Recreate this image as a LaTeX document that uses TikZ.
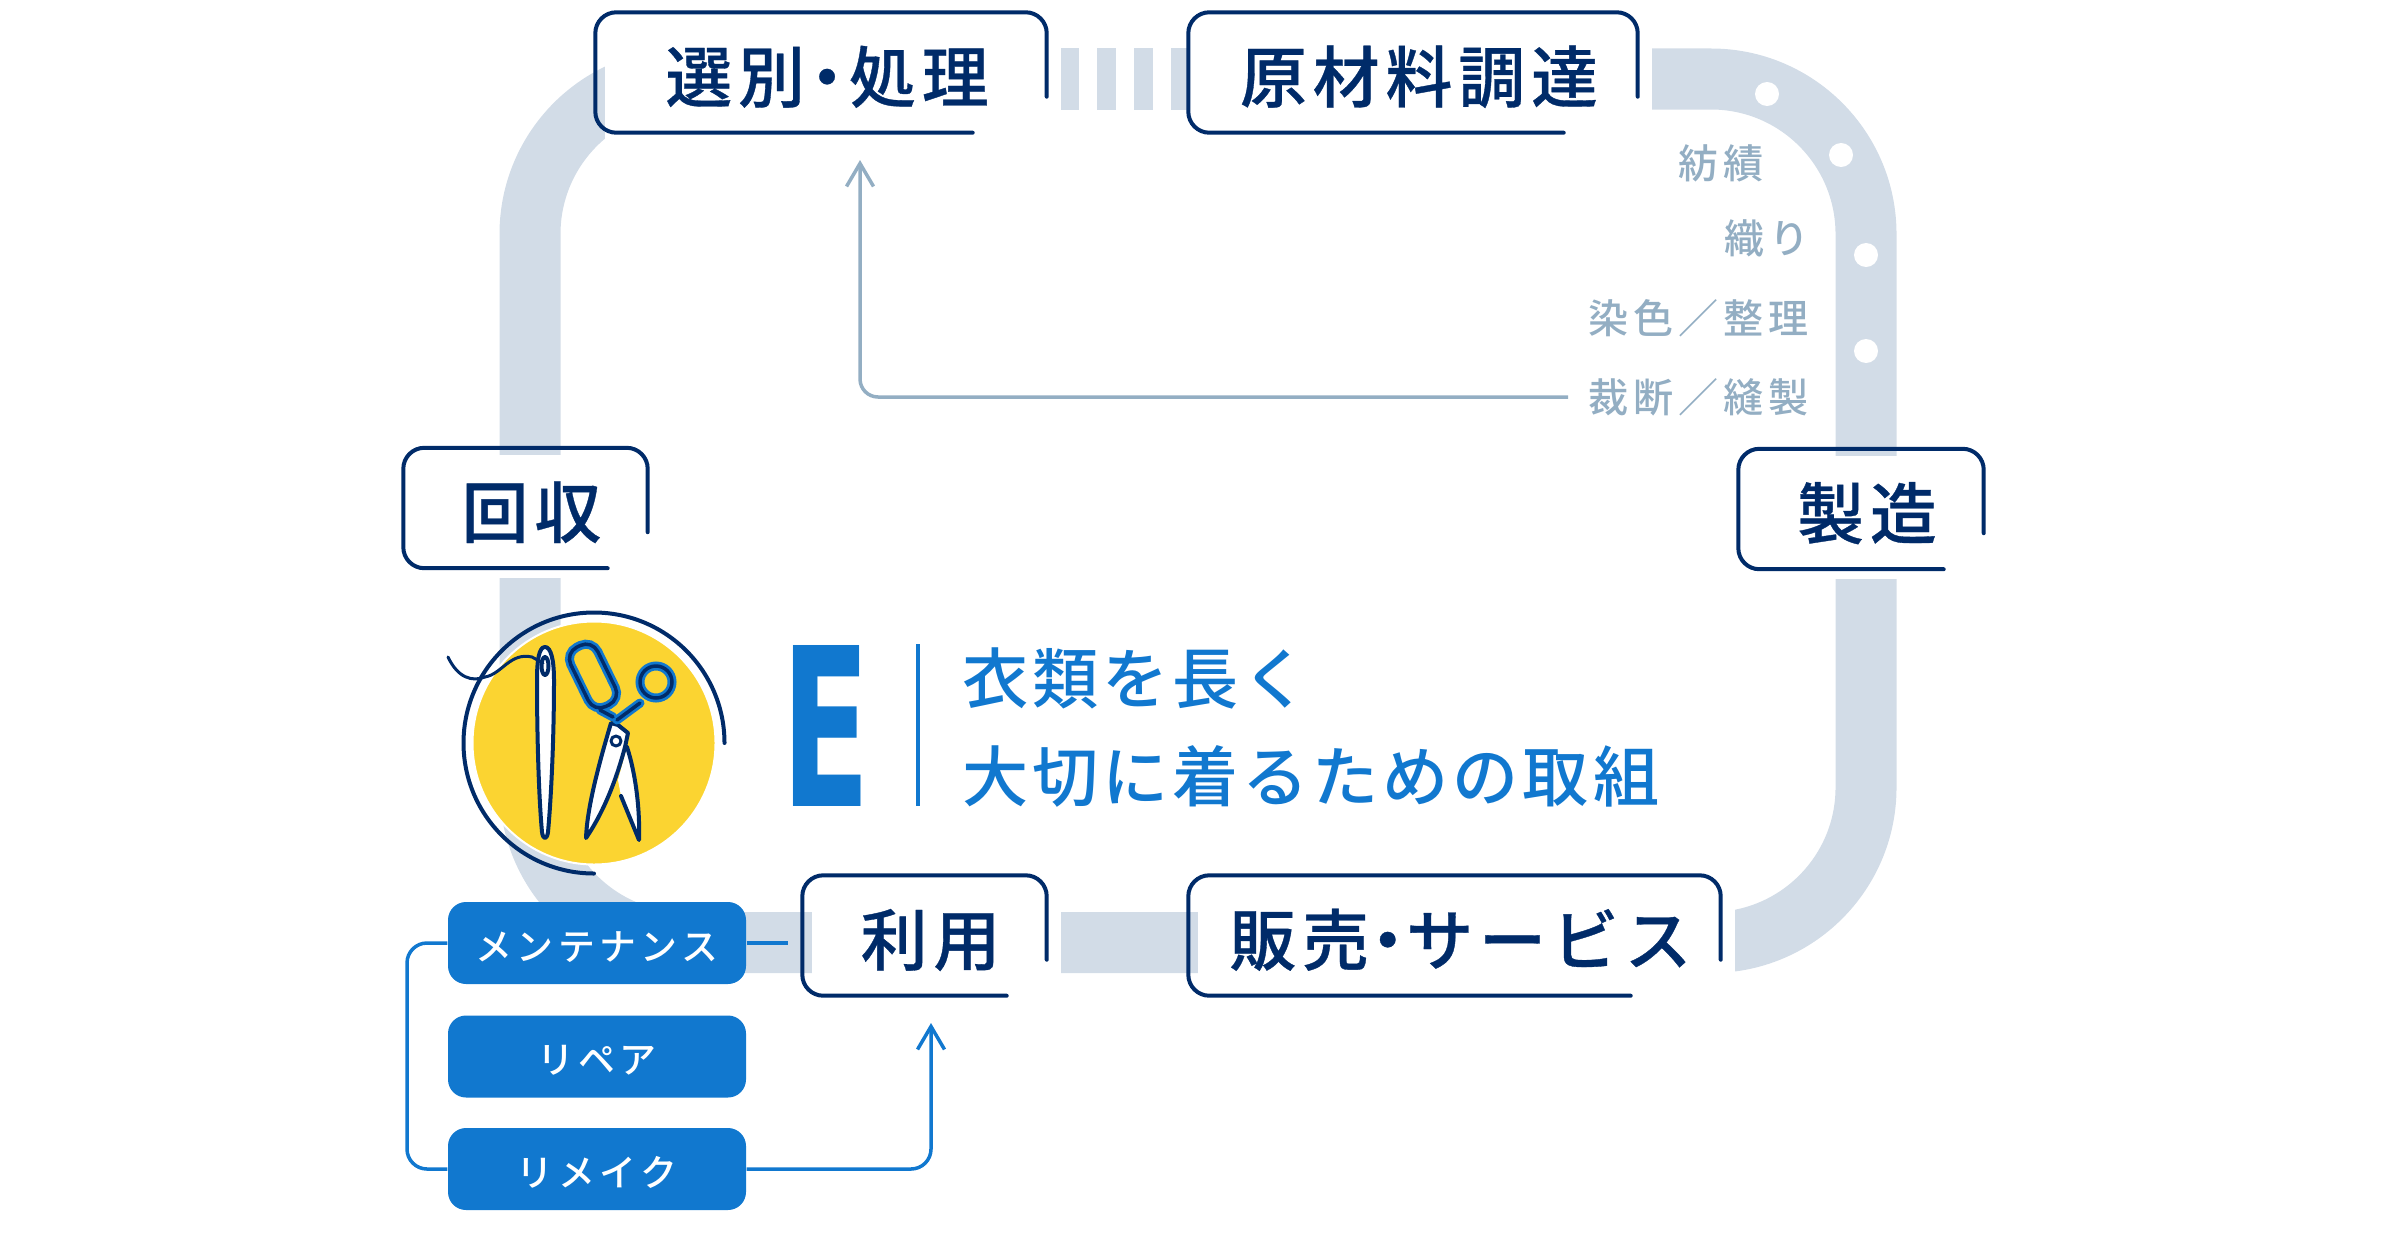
\documentclass[tikz,border=0pt]{standalone}
\usepackage{fontspec}
\usepackage{graphicx}
\usetikzlibrary{arrows.meta,calc}
\newfontfamily\jplb[LetterSpace=9,FakeBold=.5]{Noto Sans CJK JP Medium}
\newfontfamily\jptx[LetterSpace=6]{Noto Sans CJK JP Medium}
\newfontfamily\jpst[LetterSpace=12]{Noto Sans CJK JP Medium}
\newfontfamily\latn{DejaVu Sans}
\definecolor{nv}{RGB}{0, 43, 105}
\definecolor{bl}{RGB}{17, 120, 207}
\definecolor{bd}{RGB}{210, 220, 231}
\definecolor{gy}{RGB}{147, 174, 195}
\definecolor{yl}{RGB}{251, 212, 49}
\pgfdeclarelayer{bg}
\pgfsetlayers{bg,main}
\tikzstyle{band}=[draw=bd,line width=.61cm]
\tikzstyle{lb}=[inner sep=0pt,minimum height=1.19cm,text=nv,text height=.7cm,text depth=.13cm,
  font=\jplb\fontsize{19}{21}\selectfont]
\tikzstyle{fr}=[draw=nv,line width=.04cm,line cap=round,rounded corners=.21cm]
\tikzstyle{bn}=[fill=bl,rounded corners=.18cm,minimum width=2.98cm,minimum height=.82cm,
  inner sep=0pt,text=white,text height=.4cm,text depth=.06cm,font=\jpst\fontsize{10.5}{12}\selectfont]
\tikzstyle{gt}=[inner sep=0pt,anchor=east,text=gy,font=\jpst\fontsize{11.4}{13}\selectfont]
\tikzstyle{bt}=[inner sep=0pt,anchor=west,text=bl,font=\jptx\fontsize{18.8}{21}\selectfont]
\tikzstyle{gl}=[draw=gy,line width=.035cm,rounded corners=.18cm]
\tikzstyle{ln}=[draw=bl,line width=.035cm,rounded corners=.2cm]
\tikzstyle{tip}=[-{Straight Barb[length=.23cm,width=.27cm]}]
\tikzstyle{ol}=[draw=nv,line width=.04cm,line cap=round,line join=round]
\tikzstyle{hb}=[draw=bl,line width=.09cm,line cap=round]
\tikzstyle{hn}=[draw=nv,line width=.035cm,line cap=round]
\tikzstyle{none}=[]
\newcommand{\lframe}[2]{%
  \begin{pgfonlayer}{bg}
    \fill [white] ($(#1.north west)+(.04,-.06)$) rectangle ($(#1.south east)+(.08,-.09)$);
  \end{pgfonlayer}
  \draw [style=fr] ($(#1.south east)+(-.06,.37)$) -- ($(#1.north east)+(-.06,.01)$)
    -- ($(#1.north west)+(-.06,.01)$) -- ($(#1.south west)+(-.06,.01)$)
    -- ($(#1.south east)+(-.06-#2,.01)$);}
\newcommand{\dt}[1]{\kern-#1em・\kern-#1em}

\begin{document}
\begin{tikzpicture}
  \useasboundingbox (0, 0) rectangle (24, 12.4);
  \begin{pgfonlayer}{bg}
    \draw [style=band, rounded corners=1.55cm] (10.6, 11.61) -- (5.3, 11.61) -- (5.3, 2.975)
      -- (18.66, 2.975) -- (18.66, 11.61) -- (16.2, 11.61);
    \draw [style=band, dash pattern=on .19cm off .18cm] (10.6, 11.61) -- (11.9, 11.61);
    \fill [white] (17.67, 11.46) circle (.12);
    \fill [white] (18.41, 10.85) circle (.12);
    \fill [white] (18.66, 9.85) circle (.12);
    \fill [white] (18.66, 8.89) circle (.12);
  \end{pgfonlayer}

  \node [style=lb, minimum width=4.5cm] (0) at (8.27, 11.665) {選別\dt{.17} 処理};
  \node [style=lb, minimum width=4.48cm] (1) at (14.19, 11.665) {原材料調達};
  \node [style=lb, minimum width=2.44cm] (2) at (18.67, 7.3) {製造};
  \node [style=lb, minimum width=2.43cm] (3) at (5.315, 7.31) {回収};
  \node [style=lb, minimum width=2.43cm] (4) at (9.305, 3.035) {利用};
  \node [style=lb, minimum width=5.31cm] (5) at (14.605, 3.035) {販売\dt{.22} サービス};
  \lframe{0}{.74}
  \lframe{1}{.74}
  \lframe{2}{.4}
  \lframe{3}{.4}
  \lframe{4}{.4}
  \lframe{5}{.9}

  \node [style=gt] (6) at (17.64, 10.77) {紡績};
  \node [style=gt] (7) at (18.1, 10.02) {織り};
  \node [style=gt] (8) at (18.09, 9.22) {染色／整理};
  \node [style=gt] (9) at (18.09, 8.43) {裁断／縫製};
  \coordinate (10) at (8.6, 10.8);
  \draw [style=gl, style=tip] ($(9.west)+(-.2, 0)$) -| (10);

  \node [style=bn] (11) at (5.97, 2.97) {メンテナンス};
  \node [style=bn] (12) at (5.97, 1.835) {リペア};
  \node [style=bn] (13) at (5.97, .71) {リメイク};
  \coordinate (14) at (7.88, 2.97);
  \coordinate (15) at (9.31, 2.17);
  \draw [style=ln] (11.east) -- (14);
  \draw [style=ln] (11.west) -- (4.07, 2.97) -- (4.07, .71) -- (13.west);
  \draw [style=ln, style=tip] (13.east) -| (15);

  \node [inner sep=0pt, text=bl, font=\latn\bfseries] (16) at (8.26, 5.14) {\resizebox{.89cm}{1.61cm}{E}};
  \coordinate (17) at (9.18, 5.96);
  \coordinate (18) at (9.18, 4.34);
  \draw [draw=bl, line width=.035cm] (17) -- (18);
  \node [style=bt] (19) at (9.62, 5.62) {衣類を長く};
  \node [style=bt] (20) at (9.62, 4.64) {大切に着るための取組};

  \draw [fill=yl, draw=white, line width=.02cm] (5.94, 4.97) circle (1.215);
  \draw [style=ol] (7.245, 4.97) arc [start angle=0, end angle=270, radius=1.305];
  \draw [style=ol, fill=white] (5.45, 5.93) .. controls (5.39, 5.93) and (5.37, 5.8) .. (5.37, 5.6)
    .. controls (5.37, 5) and (5.39, 4.4) .. (5.42, 4.08) .. controls (5.43, 4) and (5.47, 4) .. (5.48, 4.08)
    .. controls (5.51, 4.4) and (5.54, 5) .. (5.54, 5.6) .. controls (5.54, 5.8) and (5.51, 5.93) .. cycle;
  \draw [style=ol] (5.45, 5.74) ellipse [x radius=.035, y radius=.09];
  \draw [style=ol, line width=.03cm] (4.48, 5.83) .. controls (4.58, 5.62) and (4.72, 5.58) .. (4.85, 5.63)
    .. controls (5.02, 5.66) and (5.1, 5.88) .. (5.32, 5.83) -- (5.43, 5.77);

  \fill [white] (6.27, 4.93) .. controls (6.36, 4.65) and (6.4, 4.3) .. (6.39, 4) -- (6.21, 4.44) -- (6.18, 4.6) -- cycle;
  \draw [style=ol] (6.27, 4.93) .. controls (6.36, 4.65) and (6.4, 4.3) .. (6.39, 4) -- (6.21, 4.44);
  \draw [style=ol, fill=white] (6.11, 5.17) -- (6.18, 5.15) -- (6.28, 5.07) -- (6.25, 4.93)
    .. controls (6.17, 4.63) and (6.05, 4.3) .. (5.86, 4.02) .. controls (5.87, 4.3) and (5.97, 4.7) .. cycle;
  \draw [style=ol, fill=white, line width=.03cm] (6.16, 4.99) circle (.05);

  \draw [style=hb, shift={(5.93, 5.64)}, rotate=26, rounded corners=.13cm] (-.15, -.33) rectangle (.15, .33);
  \draw [style=hb] (6.56, 5.58) circle (.16);
  \draw [style=hb] (6, 5.3) -- (6.13, 5.23);
  \draw [style=hb] (6.4, 5.37) -- (6.17, 5.2);
  \draw [style=hn, shift={(5.93, 5.64)}, rotate=26, rounded corners=.13cm] (-.15, -.33) rectangle (.15, .33);
  \draw [style=hn] (6.56, 5.58) circle (.16);
  \draw [style=hn] (6, 5.3) -- (6.13, 5.23);
  \draw [style=hn] (6.4, 5.37) -- (6.17, 5.2);
\end{tikzpicture}
\end{document}
